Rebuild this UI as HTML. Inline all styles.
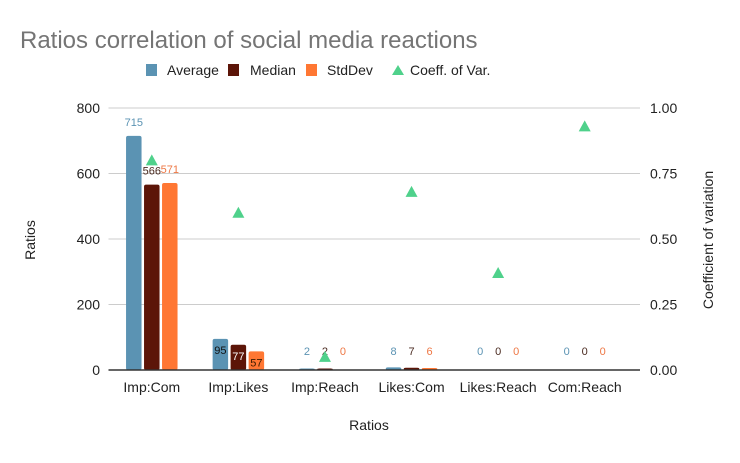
<!DOCTYPE html>
<html><head><meta charset="utf-8"><style>
body{margin:0;background:#fff;font-family:"Liberation Sans",Arial,sans-serif}
</style></head><body>
<svg width="740" height="458" font-family="Liberation Sans, Arial, sans-serif">
<text x="20" y="48" font-size="24" fill="#757575">Ratios correlation of social media reactions</text>
<g font-size="14" fill="#222">
<rect x="146" y="64" width="11" height="12" fill="#5b93b3"/>
<text x="167" y="75">Average</text>
<rect x="228" y="64" width="11" height="12" fill="#5c1508"/>
<text x="250" y="75">Median</text>
<rect x="306" y="64" width="11" height="12" fill="#ff7733"/>
<text x="327" y="75">StdDev</text>
<polygon points="392,75 398,65 404,75" fill="#4fd18b"/>
<text x="410" y="75">Coeff. of Var.</text>
</g>
<g id="grid"></g><g id="marks"></g><g id="axes"></g>
<text x="35" y="240" font-size="14" fill="#222" text-anchor="middle" transform="rotate(-90 35 240)">Ratios</text>
<text x="713" y="240" font-size="14" fill="#222" text-anchor="middle" transform="rotate(-90 713 240)">Coefficient of variation</text>
<text x="369" y="430" font-size="14" fill="#222" text-anchor="middle">Ratios</text>
</svg>
<script>
const categories=["Imp:Com","Imp:Likes","Imp:Reach","Likes:Com","Likes:Reach","Com:Reach"];
const average=[715,95,2,8,0,0];
const median=[566,77,2,7,0,0];
const stddev=[571,57,0,6,0,0];
const cv=[0.80,0.60,0.05,0.68,0.37,0.93];
const leftTicks=[0,200,400,600,800];
const rightTicks=["0.00","0.25","0.50","0.75","1.00"];
const NS="http://www.w3.org/2000/svg";
const x0=108.5,x1=628,y0=370,yTop=108;
const y=v=>y0-(v/800)*(y0-yTop);
const y2=v=>y0-(v/1)*(y0-yTop);
const band=(x1-x0)/categories.length;
const cx=i=>x0+band*(i+0.5);
function mk(t,a,p){const e=document.createElementNS(NS,t);for(const k in a)e.setAttribute(k,a[k]);p.appendChild(e);return e;}
const grid=document.getElementById('grid'),marks=document.getElementById('marks'),axes=document.getElementById('axes');
leftTicks.forEach((t,i)=>{
 const g=mk('line',{x1:x0,x2:x1+12,y1:y(t),y2:y(t),stroke:'#ccc','stroke-width':1},grid);
 
 
 const l=mk('text',{x:100,y:y(t)+5,'text-anchor':'end','font-size':14,fill:'#222'},axes);l.textContent=t;
 
 
 const r=mk('text',{x:650,y:y2(i/4)+5,'font-size':14,fill:'#222'},axes);r.textContent=rightTicks[i];
 
 
});
const series=[[average,'#5b93b3','#5b93b3','#111','average'],[median,'#5c1508','#4a2a20','#fff','median'],[stddev,'#ff7733','#ee7744','#3a1a00','stddev']];
const bw=15.5,gap=2.5;
categories.forEach((c,i)=>{
 series.forEach((s,j)=>{
  const bx=cx(i)+(j-1)*(bw+gap)-bw/2,v=s[0][i],top=y(v);
  const h=Math.max(y0-top,v>0?1.5:0);
  const r=mk('rect',{x:bx,y:y0-h,width:bw,height:h,fill:s[1],rx:2},marks);
  
  
  const inside=h>14&&h<120;
  const ly=inside?top+15:Math.min(top-10,y0-15);
  const lbl=mk('text',{x:bx+bw/2,y:ly,'text-anchor':'middle','font-size':11,fill:inside?s[3]:s[2]},marks);
  lbl.textContent=v;
  
  
 });
 const ty=y2(cv[i]),tx=cx(i);
 const p=mk('polygon',{points:`${tx-6},${ty+5} ${tx},${ty-6} ${tx+6},${ty+5}`,fill:'#4fd18b'},marks);
 
 
 const xl=mk('text',{x:cx(i),y:392,'text-anchor':'middle','font-size':14,fill:'#222'},axes);xl.textContent=c;
 
 
});
const ax=mk('line',{x1:x0,x2:x1+12,y1:y0,y2:y0,stroke:'#333','stroke-width':1.5},axes);


</script>
</body></html>
